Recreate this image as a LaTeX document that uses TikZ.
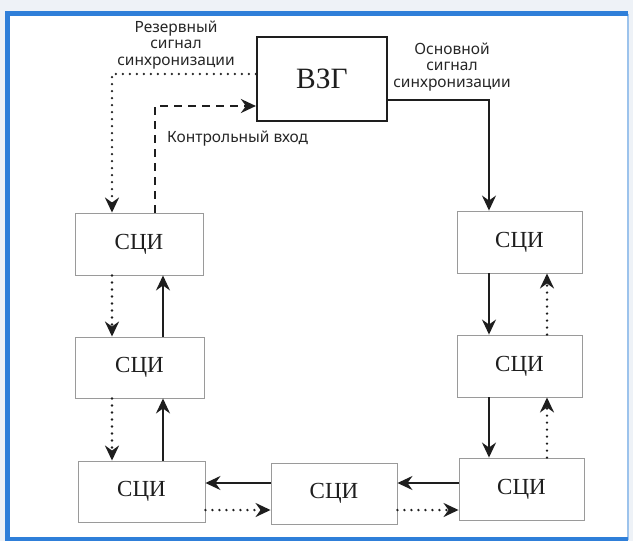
\documentclass[tikz,border=0pt]{standalone}
\usepackage{fontspec}
\setmainfont{Liberation Serif}
\newfontfamily\labelfont{Noto Sans}
\usetikzlibrary{arrows.meta}
\definecolor{frameblue}{HTML}{2F7FD9}
\definecolor{paleblue}{HTML}{9CC3EC}
\definecolor{outerbg}{HTML}{EEF2F7}
\definecolor{boxgray}{HTML}{9A9A9A}
\definecolor{ink}{HTML}{1E1E1E}
\definecolor{labelink}{HTML}{262626}
\tikzset{
  unit/.style={draw=boxgray, line width=0.9pt, fill=white, minimum width=126pt,
    minimum height=62pt, inner sep=0pt, font=\fontsize{23}{26}\selectfont, text=ink},
  master/.style={draw=ink, line width=2.2pt, fill=white, minimum width=130pt,
    minimum height=84pt, inner sep=0pt, font=\fontsize{29.5}{32}\selectfont, text=ink},
  tip/.style={-{Stealth[length=15pt,width=14pt,inset=5pt]}},
  mainline/.style={tip, draw=ink, line width=1.9pt},
  backupline/.style={tip, draw=ink, line width=2.6pt, line cap=round, dash pattern=on 0pt off 7pt},
  ctrlline/.style={tip, draw=ink, line width=2.5pt, dash pattern=on 8pt off 6pt},
  caption/.style={font=\labelfont\fontsize{15.5}{16.5}\selectfont, text=labelink, align=center, inner sep=0pt}
}
\begin{document}
\begin{tikzpicture}[x=1pt,y=-1pt]
\useasboundingbox (0,0) rectangle (633,541);
% page background and blue frame
\fill[outerbg] (0,0) rectangle (633,541);
\fill[white] (7.5,13.5) rectangle (628,539.5);
\draw[paleblue, line width=1.5pt] (628,13.5) -- (628,539.5);
\draw[frameblue, line width=4.5pt] (628,13.5) -- (7.5,13.5) -- (7.5,539.5) -- (628,539.5);

% blocks
\node[master] (vzg) at (322,79) {ВЗГ};
\node[unit, minimum width=128pt] (l1) at (139,244) {СЦИ};
\node[unit, minimum width=129pt, minimum height=61pt] (l2) at (139.5,367.5) {СЦИ};
\node[unit, minimum width=127pt, minimum height=61pt] (l3) at (141.5,491.5) {СЦИ};
\node[unit, minimum width=125pt] (r1) at (519.5,242) {СЦИ};
\node[unit, minimum width=125pt] (r2) at (519.5,366) {СЦИ};
\node[unit, minimum width=125pt] (r3) at (521.5,489) {СЦИ};
\node[unit, minimum height=61pt] (m) at (334,493.5) {СЦИ};

% guide columns and rows for the connectors
\coordinate (cx1) at (112,0);
\coordinate (cx2) at (163,0);
\coordinate (cxc) at (155,0);
\coordinate (cx3) at (489,0);
\coordinate (cx4) at (547,0);
\coordinate (ry1) at (0,483);
\coordinate (ry2) at (0,510);
\coordinate (rvr) at (0,74);
\coordinate (rvc) at (0,106);
\coordinate (rvm) at (0,100);
\coordinate (kres) at (112,74);
\coordinate (kctl) at (155,106);
\coordinate (kmain) at (489,100);

% reference links from the master clock
\draw[backupline] (vzg.west |- rvr) -- (kres) -- (l1.north -| cx1);
\draw[ctrlline] (l1.north -| cxc) -- (kctl) -- (vzg.west |- rvc);
\draw[mainline] (vzg.east |- rvm) -- (kmain) -- (r1.north -| cx3);

% right column
\draw[mainline] (r1.south -| cx3) -- (r2.north -| cx3);
\draw[mainline] (r2.south -| cx3) -- (r3.north -| cx3);
\draw[backupline] (r2.north -| cx4) -- (r1.south -| cx4);
\draw[backupline] (r3.north -| cx4) -- (r2.south -| cx4);

% bottom row
\draw[mainline] (r3.west |- ry1) -- (m.east |- ry1);
\draw[mainline] (m.west |- ry1) -- (l3.east |- ry1);
\draw[backupline] (l3.east |- ry2) -- (m.west |- ry2);
\draw[backupline] (m.east |- ry2) -- (r3.west |- ry2);

% left column
\draw[backupline] (l1.south -| cx1) -- (l2.north -| cx1);
\draw[backupline] (l2.south -| cx1) -- (l3.north -| cx1);
\draw[mainline] (l2.north -| cx2) -- (l1.south -| cx2);
\draw[mainline] (l3.north -| cx2) -- (l2.south -| cx2);

% captions
\node[caption] (capres) at (176,45) {Резервный\\сигнал\\синхронизации};
\node[caption] (capmain) at (452,67) {Основной\\сигнал\\синхронизации};
\node[caption, anchor=base west] (capctl) at (167,142) {Контрольный вход};
\end{tikzpicture}
\end{document}
